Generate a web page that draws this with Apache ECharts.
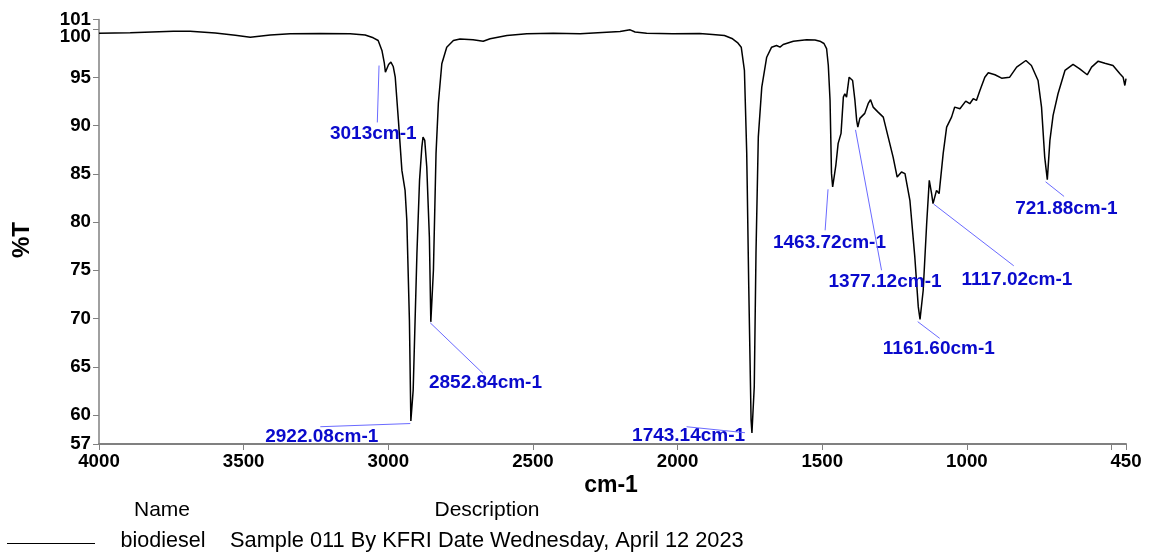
<!DOCTYPE html>
<html><head><meta charset="utf-8">
<script src="https://cdn.jsdelivr.net/npm/echarts@6/dist/echarts.min.js"></script>
<style>html,body{margin:0;padding:0;background:#fff}#c{width:1151px;height:556px}</style>
</head><body><div id="c"></div>
<script>
// wavenumber (cm-1) and %T
const wavenumbers = [
  4000, 3892, 3743, 3685, 3598, 3529, 3477, 3408, 3339, 3235,
  3132, 3080, 3052, 3035, 3022, 3014, 3010, 2999, 2991, 2983,
  2976, 2965, 2953, 2942, 2936, 2927, 2922, 2914, 2901, 2892,
  2884, 2880, 2874, 2867, 2858, 2853, 2844, 2835, 2827, 2815,
  2798, 2775, 2752, 2707, 2672, 2648, 2590, 2521, 2430, 2337,
  2245, 2199, 2164, 2147, 2107, 2017, 1924, 1879, 1838, 1810,
  1793, 1780, 1769, 1761, 1754, 1746, 1743, 1735, 1729, 1721,
  1709, 1692, 1675, 1658, 1646, 1635, 1600, 1554, 1525, 1508,
  1494, 1485, 1479, 1473, 1468, 1464, 1453, 1445, 1435, 1427,
  1422, 1416, 1407, 1395, 1387, 1381, 1377, 1370, 1353, 1341,
  1333, 1324, 1307, 1289, 1272, 1255, 1241, 1226, 1214, 1197,
  1180, 1168, 1162, 1151, 1139, 1130, 1122, 1117, 1105, 1096,
  1082, 1070, 1053, 1042, 1024, 1004, 990, 978, 967, 955,
  938, 926, 903, 880, 852, 828, 796, 777, 754, 742,
  731, 722, 713, 702, 685, 661, 633, 610, 584, 569,
  546, 523, 495, 471, 460, 454, 450
];
const transmittance = [
  99.58, 99.62, 99.78, 99.78, 99.60, 99.37, 99.16, 99.39, 99.52, 99.55,
  99.52, 99.39, 99.10, 98.82, 97.79, 96.54, 95.54, 96.34, 96.58, 96.13,
  95.02, 90.54, 85.36, 83.29, 80.19, 69.84, 59.38, 62.59, 76.77, 84.33,
  87.78, 88.81, 88.47, 85.71, 78.46, 69.66, 75.01, 87.12, 92.30, 96.41,
  98.13, 98.82, 98.98, 98.90, 98.75, 99.00, 99.34, 99.52, 99.58, 99.52,
  99.68, 99.75, 99.93, 99.70, 99.58, 99.52, 99.55, 99.44, 99.34, 99.00,
  98.61, 98.13, 95.72, 87.12, 73.28, 59.48, 58.14, 62.93, 76.77, 88.81,
  93.99, 97.09, 98.13, 98.30, 98.13, 98.41, 98.75, 98.89, 98.87, 98.75,
  98.51, 97.99, 96.23, 92.60, 85.05, 83.64, 85.88, 88.16, 89.20, 92.95,
  93.30, 92.95, 95.02, 94.68, 92.61, 90.54, 89.85, 90.75, 91.27, 92.30,
  92.68, 91.92, 91.40, 90.88, 88.81, 86.74, 84.67, 85.19, 85.02, 82.26,
  76.39, 71.21, 69.91, 72.94, 79.85, 84.33, 82.95, 81.92, 83.29, 82.95,
  87.09, 89.85, 90.88, 91.92, 91.75, 92.54, 92.27, 92.79, 92.61, 93.65,
  95.02, 95.48, 95.27, 94.92, 95.02, 96.06, 96.75, 96.23, 94.68, 91.92,
  86.74, 84.40, 88.47, 91.06, 93.30, 95.72, 96.34, 95.89, 95.27, 96.06,
  96.68, 96.47, 96.23, 95.37, 95.02, 94.16, 94.86
];
const xTicks = [4000, 3500, 3000, 2500, 2000, 1500, 1000, 500, 450];
const xTickLabels = [4000, 3500, 3000, 2500, 2000, 1500, 1000, 450];
const yTicks = [57, 60, 65, 70, 75, 80, 85, 90, 95, 100, 101];
const yTickLabels = [57, 60, 65, 70, 75, 80, 85, 90, 95, 101];
const yCrowdedLabel = 100; // drawn slightly below its tick, as in the original
const peakLabels = ['3013cm-1', '2922.08cm-1', '2852.84cm-1', '1743.14cm-1', '1463.72cm-1',
                    '1377.12cm-1', '1161.60cm-1', '1117.02cm-1', '721.88cm-1'];
const seriesName = 'biodiesel';
const seriesDescription = 'Sample 011 By KFRI Date Wednesday, April 12 2023';

// layout of the peak annotations, in data coordinates: [leader start, leader end, label centre]
const leaderLayout = [
  [[3038, 90.33], [3032, 96.23], [3052, 89.19]],
  [[3235, 58.79], [2924, 59.12], [3230, 57.72]],
  [[2855, 69.56], [2673, 64.32], [2664, 63.31]],
  [[1969, 58.79], [1767, 58.17], [1962, 57.83]],
  [[1490, 79.15], [1480, 83.40], [1475, 77.91]],
  [[1295, 75.01], [1385, 89.56], [1283, 73.77]],
  [[1170, 69.68], [1094, 67.95], [1097, 66.83]],
  [[1115, 81.87], [838, 75.47], [827, 73.98]],
  [[728, 84.18], [664, 82.66], [656, 81.43]]
];

const FONT = '"Liberation Sans", Arial, sans-serif';
const data = wavenumbers.map((w, i) => [w, transmittance[i]]);

const chart = echarts.init(document.getElementById('c'));
const option = {
  animation: false,
  backgroundColor: '#fff',
  grid: { left: 99, right: 25, top: 19.5, bottom: 112 },
  xAxis: {
    type: 'value', inverse: true, min: 450, max: 4000,
    axisLine: { show: true, lineStyle: { color: '#808080', width: 2 } },
    axisTick: { show: true, length: 6, customValues: xTicks, lineStyle: { color: '#808080', width: 1 } },
    axisLabel: { customValues: xTickLabels, margin: 8, color: '#000', fontSize: 18.7, fontWeight: 'bold', fontFamily: FONT,
      hideOverlap: false, showMinLabel: true, showMaxLabel: true, formatter: v => String(v) },
    splitLine: { show: false }
  },
  yAxis: {
    type: 'value', min: 57, max: 101,
    axisLine: { show: true, lineStyle: { color: '#808080', width: 1.5 } },
    axisTick: { show: true, length: 6, customValues: yTicks, lineStyle: { color: '#808080', width: 1 } },
    axisLabel: {
      customValues: yTickLabels, margin: 8, color: '#000', fontSize: 18.7, fontWeight: 'bold', fontFamily: FONT,
      hideOverlap: false, showMinLabel: true, showMaxLabel: true, formatter: v => String(v)
    },
    splitLine: { show: false }
  },
  series: [{
    type: 'line', name: seriesName, data: data, showSymbol: false, smooth: false,
    lineStyle: { color: '#000', width: 1.5 }
  }]
};
chart.setOption(option);

const g = [];
peakLabels.forEach((t, i) => {
  const c = leaderLayout[i][2];
  const pc = chart.convertToPixel({ gridIndex: 0 }, c);
  g.push({ type: 'text', x: pc[0], y: pc[1], silent: true, z: 10,
    style: { text: t, fill: '#0a0acc', font: 'bold 19px ' + FONT, align: 'center', verticalAlign: 'middle' } });
});
peakLabels.forEach((t, i) => {
  const [a, b] = leaderLayout[i];
  const pa = chart.convertToPixel({ gridIndex: 0 }, a);
  const pb = chart.convertToPixel({ gridIndex: 0 }, b);
  g.push({ type: 'line', silent: true, z: 11,
    shape: { x1: pa[0], y1: pa[1], x2: pb[0], y2: pb[1] },
    style: { stroke: '#6a6aff', lineWidth: 1 } });
});
// crowded tick label "100", nudged below its tick
const p100 = chart.convertToPixel({ gridIndex: 0 }, [4000, yCrowdedLabel]);
g.push({ type: 'text', x: p100[0] - 8, y: p100[1] + 8, silent: true,
  style: { text: String(yCrowdedLabel), fill: '#000', font: 'bold 18.7px ' + FONT, align: 'right', verticalAlign: 'middle' } });
// axis names and the name/description block
g.push({ type: 'text', x: 611, y: 486, style: { text: 'cm-1', fill: '#000', font: 'bold 23px ' + FONT, align: 'center', verticalAlign: 'middle' } });
g.push({ type: 'text', x: 22, y: 240, rotation: Math.PI / 2, style: { text: '%T', fill: '#000', font: 'bold 24px ' + FONT, align: 'center', verticalAlign: 'middle' } });
g.push({ type: 'text', x: 162, y: 510, style: { text: 'Name', fill: '#000', font: '21px ' + FONT, align: 'center', verticalAlign: 'middle' } });
g.push({ type: 'text', x: 487, y: 510, style: { text: 'Description', fill: '#000', font: '21px ' + FONT, align: 'center', verticalAlign: 'middle' } });
g.push({ type: 'line', shape: { x1: 7, y1: 543.5, x2: 95, y2: 543.5 }, style: { stroke: '#000', lineWidth: 1 } });
g.push({ type: 'text', x: 163, y: 541, style: { text: seriesName, fill: '#000', font: '21.5px ' + FONT, align: 'center', verticalAlign: 'middle' } });
g.push({ type: 'text', x: 230, y: 541, style: { text: seriesDescription, fill: '#000', font: '21.8px ' + FONT, align: 'left', verticalAlign: 'middle' } });
chart.setOption({ graphic: g });
</script>
</body></html>
